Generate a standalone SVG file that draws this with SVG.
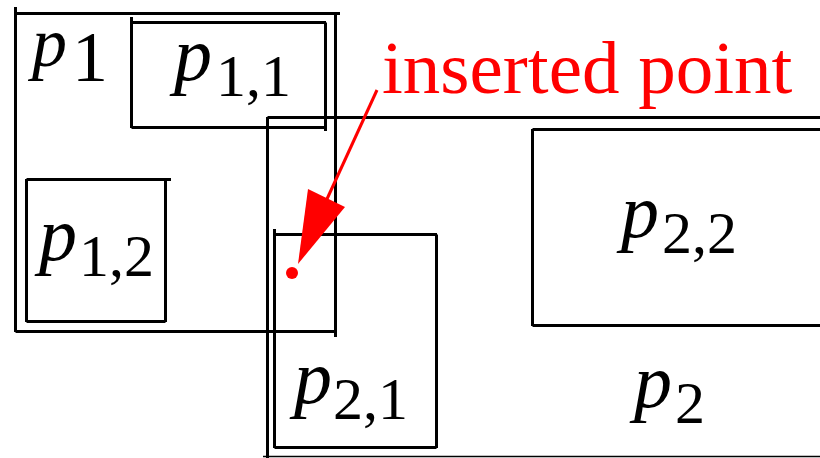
<svg xmlns="http://www.w3.org/2000/svg" width="820" height="458" viewBox="0 0 820 458">
<style>
.b{fill:none;stroke:#000;stroke-width:3;stroke-linecap:butt}
.p{font-family:"Liberation Serif","DejaVu Serif",serif;font-style:italic;font-size:76px;fill:#000}
.s{font-family:"Liberation Serif","DejaVu Serif",serif;font-size:60px;fill:#000}
.lbl{font-family:"Liberation Serif","DejaVu Serif",serif;font-size:75px;fill:#f00}
</style>
<rect width="820" height="458" fill="#fff"/>
<g id="p1">
<path class="b" d="M15.5,7V332M15.5,13.5H340M335.5,13.5V337M15.5,331.5H335.5"/>
<text class="p" x="32" y="66" style="font-size:70px">p</text>
<text class="s" x="72" y="81" style="font-size:72px">1</text>
</g>
<g id="p1_1">
<path class="b" d="M131.5,17V128M131.5,22.5H326M325.5,22.5V131M131.5,127.5H325.5"/>
<text class="p" x="174" y="80">p</text>
<text class="s" x="216" y="96">1,1</text>
</g>
<g id="p1_2">
<path class="b" d="M26.5,179V322M26.5,179.5H171M165.5,179.5V322M26.5,321.5H165.5"/>
<text class="p" x="39" y="260">p</text>
<text class="s" x="79" y="276">1,2</text>
</g>
<g id="p2">
<path class="b" d="M267.5,117V458M267.5,117.5H820"/>
<path d="M263,456.5H820" stroke="#000" stroke-width="1.5" fill="none"/>
<text class="p" x="634" y="407">p</text>
<text class="s" x="675" y="423">2</text>
</g>
<g id="p2_1">
<path class="b" d="M274.5,229V448M274.5,234.5H437M436.5,234.5V448M274.5,447.5H436.5"/>
<text class="p" x="294" y="403">p</text>
<text class="s" x="333" y="419">2,1</text>
</g>
<g id="p2_2">
<path class="b" d="M532.5,129V326M532.5,129.5H820M532.5,325.5H820"/>
<text class="p" x="621" y="237">p</text>
<text class="s" x="662" y="253">2,2</text>
</g>
<g id="inserted_point">
<text class="lbl" x="382" y="93">inserted point</text>
<circle cx="292" cy="273" r="6" fill="#f00"/>
</g>
<g id="connectors">
<line x1="377" y1="90" x2="327" y2="199" stroke="#f00" stroke-width="3"/>
<polygon points="308,189 345,207 298,264" fill="#f00"/>
</g>
</svg>
